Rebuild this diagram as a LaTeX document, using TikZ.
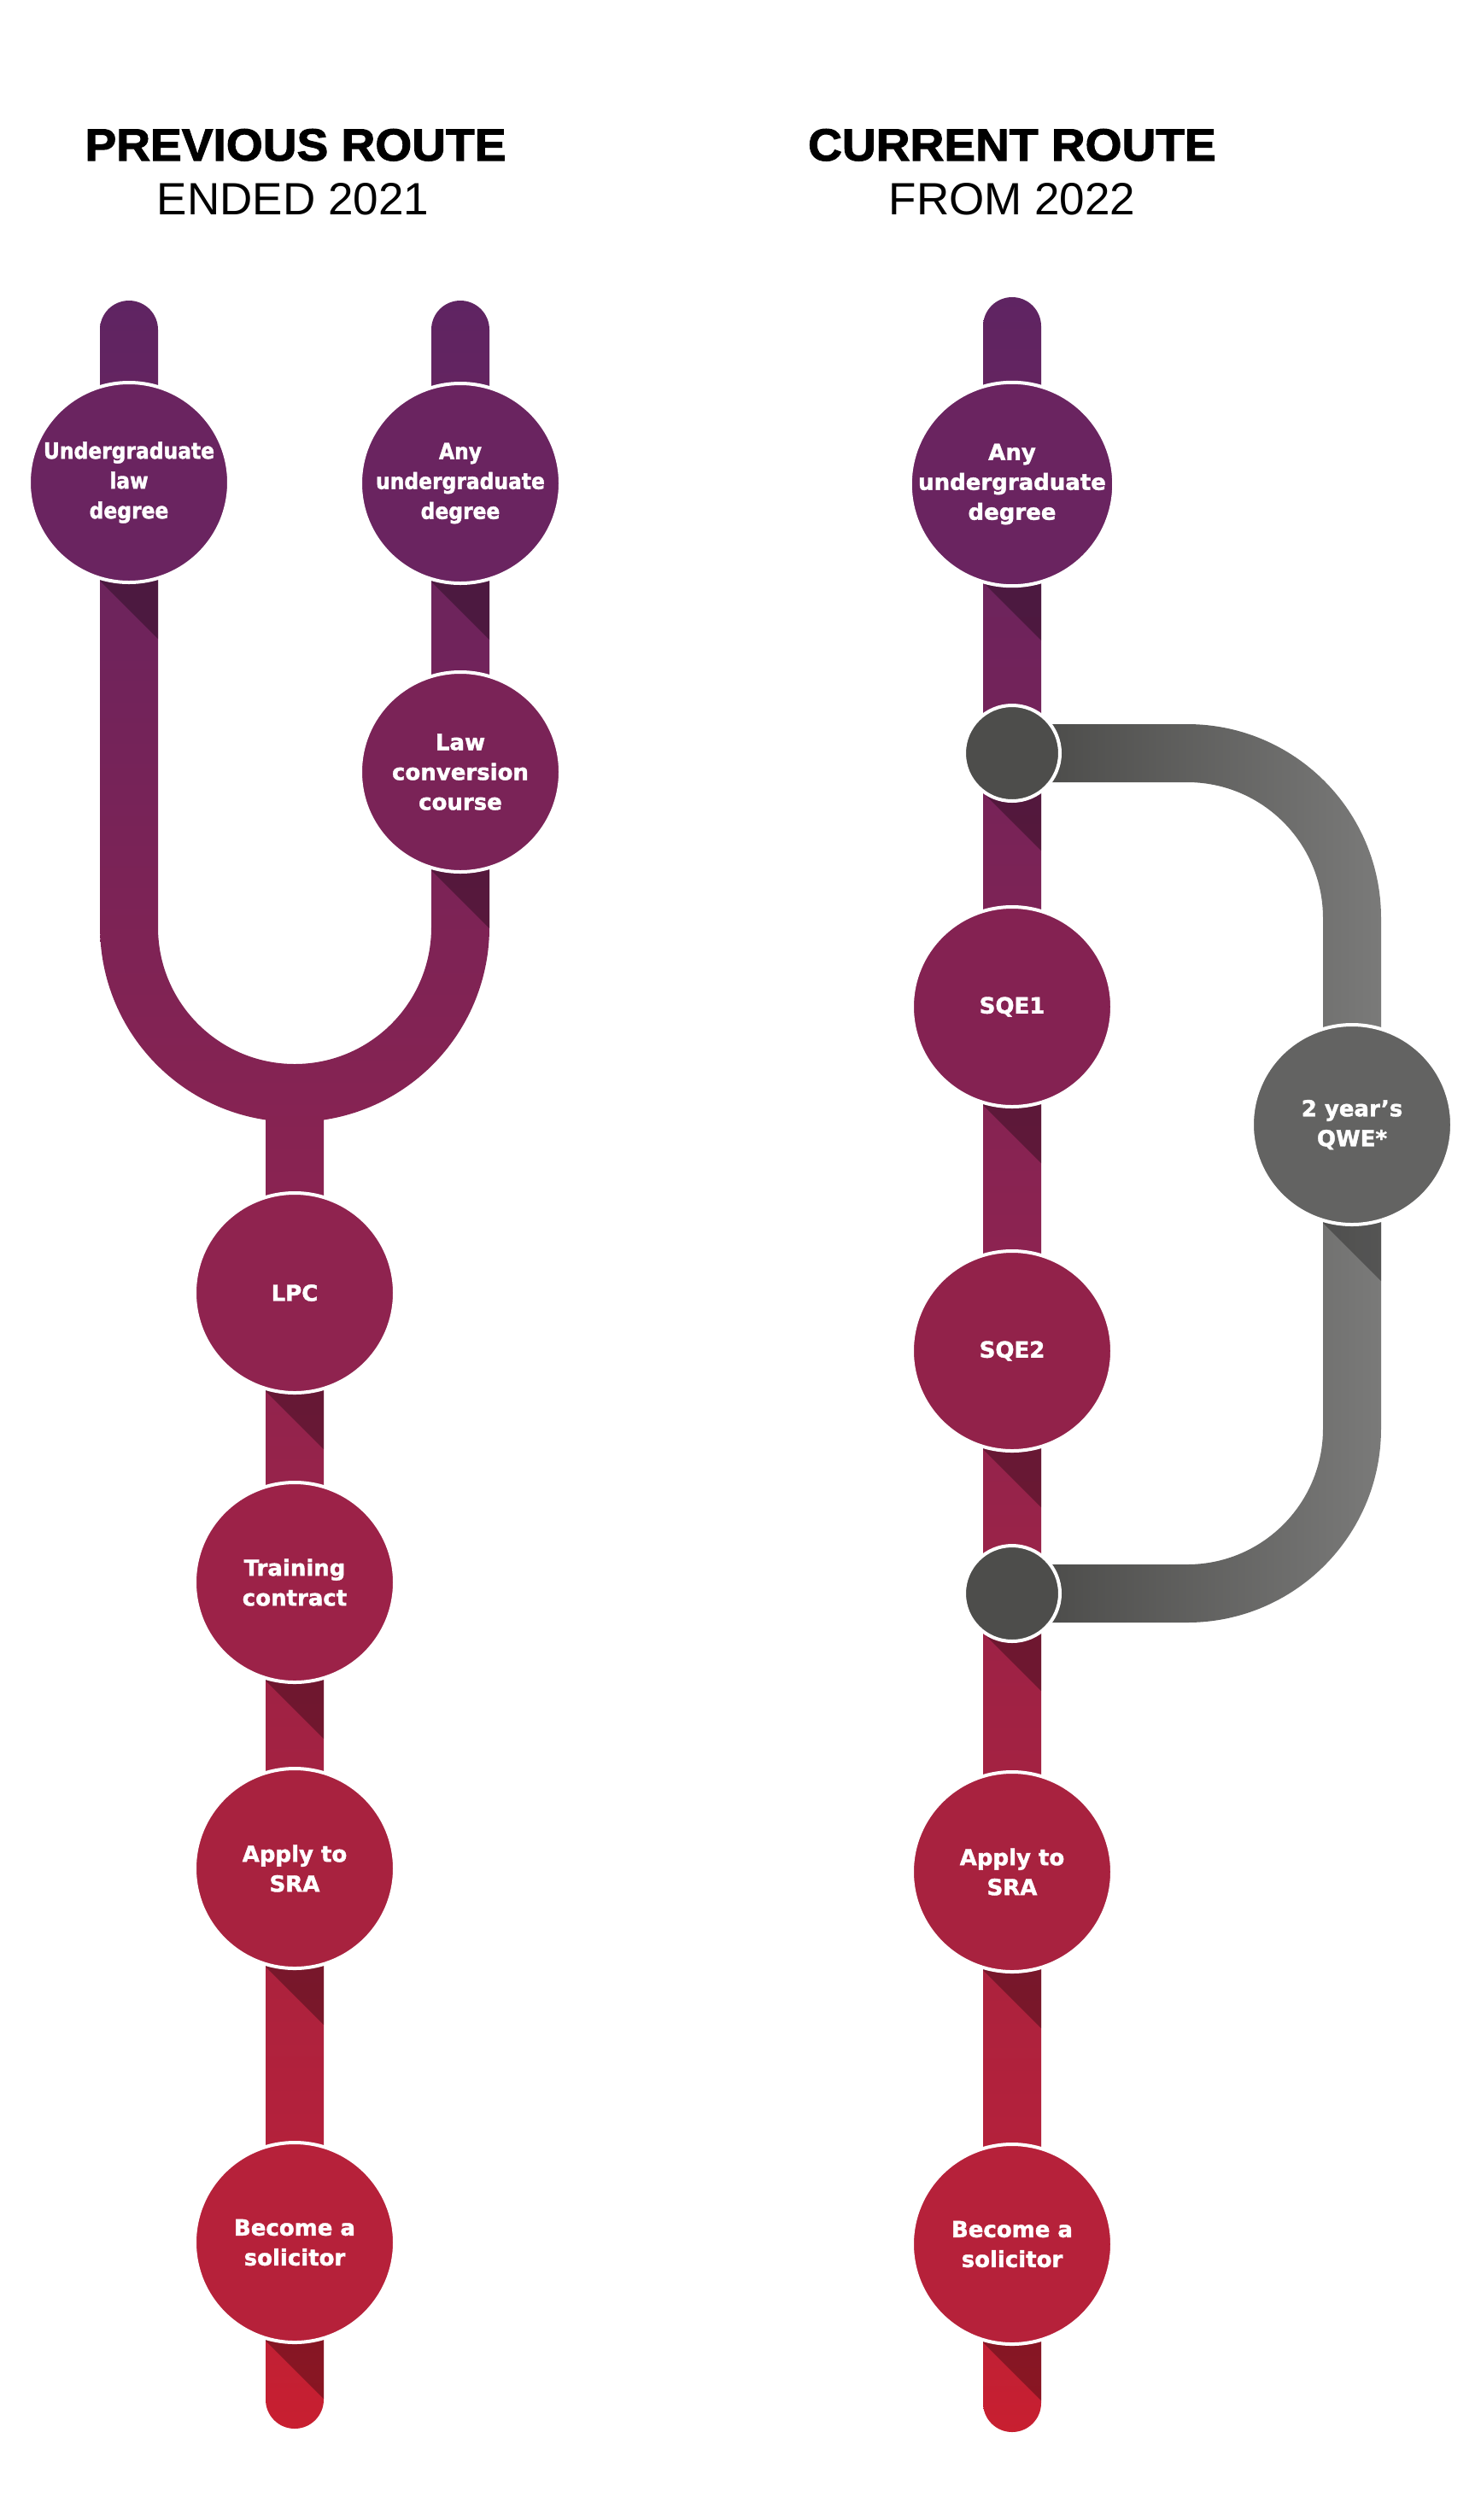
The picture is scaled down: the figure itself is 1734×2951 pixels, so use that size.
\documentclass[tikz,border=0pt]{standalone}
\usepackage{fontspec}
\setmainfont{DejaVu Sans}[BoldFeatures={FakeBold=1.5}]
\newfontfamily\headfont{Liberation Sans}[BoldFeatures={FakeBold=2,
  FakeStretch=1.04}]
\newfontfamily\narrowfont{DejaVu Sans}[FakeStretch=0.9,
  BoldFeatures={FakeBold=1.5}]
\usetikzlibrary{backgrounds,calc}
\definecolor{routetop}{HTML}{5F2462}
\definecolor{routeupper}{HTML}{7E2355}
\definecolor{routemid}{HTML}{8E2350}
\definecolor{routelower}{HTML}{A8223F}
\definecolor{routelow}{HTML}{B8213A}
\definecolor{routebot}{HTML}{C81F30}
\definecolor{degreefill}{HTML}{6A2460}
\definecolor{convfill}{HTML}{7A2357}
\definecolor{sqeonefill}{HTML}{842252}
\definecolor{lpcfill}{HTML}{8F234F}
\definecolor{sqetwofill}{HTML}{92224A}
\definecolor{trainfill}{HTML}{9C2248}
\definecolor{srafill}{HTML}{A8223F}
\definecolor{solfill}{HTML}{B6213A}
\definecolor{jointfill}{HTML}{4D4D4B}
\definecolor{qwefill}{HTML}{636362}
\definecolor{greyleft}{HTML}{484846}
\definecolor{greyright}{HTML}{7A7A79}
\pgfdeclareverticalshading{routeshade}{100bp}{color(0bp)=(routebot);
  color(25bp)=(routebot); color(29.4bp)=(routelow); color(38.1bp)=(routelower);
  color(51.7bp)=(routemid); color(60bp)=(routeupper); color(75bp)=(routetop);
  color(100bp)=(routetop)}

\begin{document}
\begin{tikzpicture}[x=0.5pt,y=-0.5pt,
  stage/.style={circle,draw=white,line width=2pt,minimum size=117pt,
    inner sep=0pt,align=center,text=white,
    font=\bfseries\fontsize{13}{17.5}\selectfont},
  narrowstage/.style={stage,
    font=\narrowfont\bfseries\fontsize{13}{17.5}\selectfont},
  joint/.style={circle,draw=white,line width=2pt,minimum size=56pt,
    inner sep=0pt,fill=jointfill},
  shadow/.style={fill=black,fill opacity=0.3},
  heading/.style={anchor=base,
    font=\headfont\bfseries\fontsize{26.5}{30}\selectfont},
  subheading/.style={anchor=base,
    font=\headfont\fontsize{26.5}{30}\selectfont}]
  \useasboundingbox (0,0) rectangle (1734,2951);

  % Headings
  \node[heading] (prevhead) at (346,188) {PREVIOUS ROUTE};
  \node[subheading] (prevsub) at (343,251) {ENDED 2021};
  \node[heading] (currhead) at (1185,188) {CURRENT ROUTE};
  \node[subheading] (currsub) at (1185,251) {FROM 2022};

  % Previous route
  \node[narrowstage,fill=degreefill] (law) at (151,565)
    {Undergraduate\\law\\degree};
  \node[narrowstage,fill=degreefill] (anyL) at (539,566)
    {Any\\undergraduate\\degree};
  \node[stage,fill=convfill] (conv) at (539,904) {Law\\conversion\\course};
  \node[stage,fill=lpcfill] (lpc) at (345,1514) {LPC};
  \node[stage,fill=trainfill] (train) at (345,1853) {Training\\contract};
  \node[stage,fill=srafill] (sraL) at (345,2188) {Apply to\\SRA};
  \node[stage,fill=solfill] (solL) at (345,2626) {Become a\\solicitor};

  % Current route
  \node[stage,fill=degreefill] (anyR) at (1185,567)
    {Any\\undergraduate\\degree};
  \node[joint] (j1) at (1185,882) {};
  \node[stage,fill=sqeonefill] (sqe1) at (1185,1179) {SQE1};
  \node[stage,fill=sqetwofill] (sqe2) at (1185,1582) {SQE2};
  \node[joint] (j2) at (1185,1866) {};
  \node[stage,fill=srafill] (sraR) at (1185,2192) {Apply to\\SRA};
  \node[stage,fill=solfill] (solR) at (1185,2628) {Become a\\solicitor};
  \node[stage,fill=qwefill] (qwe) at (1583,1317) {2 year’s\\QWE*};

  \begin{scope}[on background layer]
    \fill[white] (0,0) rectangle (1734,2951);
    % two feeder lines joined in a U above the main line
    \shade[shading=routeshade]
      (117,386) arc[start angle=180,end angle=360,radius=34]
      -- (185,1086) arc[start angle=180,end angle=0,radius=160]
      -- (505,386) arc[start angle=180,end angle=360,radius=34]
      -- (573,1086) arc[start angle=0,end angle=81.4,radius=228]
      -- (379,2810) arc[start angle=0,end angle=180,radius=34]
      -- (311,1311.4) arc[start angle=98.6,end angle=180,radius=228]
      -- cycle;
    \shade[shading=routeshade]
      (1151,382) arc[start angle=180,end angle=360,radius=34]
      -- (1219,2814) arc[start angle=0,end angle=180,radius=34]
      -- cycle;

    % work experience branch
    \shade[left color=greyleft,right color=greyright]
      (1185,848) -- (1390,848) arc[start angle=270,end angle=360,radius=227]
      -- (1617,1673) arc[start angle=0,end angle=90,radius=227]
      -- (1185,1900) -- (1185,1832) -- (1390,1832)
      arc[start angle=90,end angle=0,radius=159]
      -- (1549,1075) arc[start angle=360,end angle=270,radius=159]
      -- (1185,916) -- cycle;

    % drop shadows below each station
    \foreach \n/\d in {law/115,anyL/115,conv/115,lpc/115,train/115,
                       sraL/115,solL/115,anyR/115,sqe1/115,sqe2/115,
                       sraR/115,solR/115,qwe/115,j1/46,j2/46}
      \fill[shadow] ($(\n)+(-34,0)$) -- ++(0,\d) -- ++(68,68)
        -- ++(0,-\d-68) -- cycle;
  \end{scope}
\end{tikzpicture}
\end{document}
